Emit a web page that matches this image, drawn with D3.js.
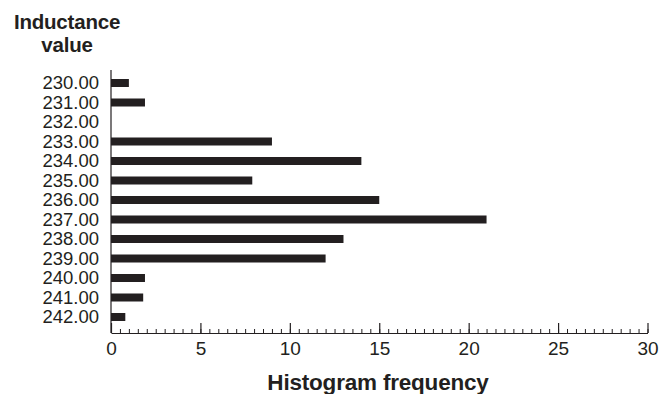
<!DOCTYPE html>
<html>
<head>
<meta charset="utf-8">
<script src="https://cdn.jsdelivr.net/npm/d3@7"></script>
<style>
  html, body { margin: 0; padding: 0; background: #fff; }
  svg { display: block; font-family: "Liberation Sans", Arial, Helvetica, sans-serif; }
</style>
</head>
<body>
<svg id="chart" width="670" height="394"></svg>
<script>
const categories = ["230.00","231.00","232.00","233.00","234.00","235.00","236.00","237.00","238.00","239.00","240.00","241.00","242.00"];
const frequencies = [1, 1.9, 0, 9, 14, 7.9, 15, 21, 13, 12, 1.9, 1.8, 0.8];
const xTicks = [0, 5, 10, 15, 20, 25, 30];
const yTitle = ["Inductance", "value"];
const xTitle = "Histogram frequency";

const svg = d3.select("#chart");
const ink = "#231f20";

const x = d3.scaleLinear().domain([0, 30]).range([111, 647.5]);
const y = d3.scalePoint().domain(categories).range([83, 317]);
const axisY = 333;
const barH = 8;

// bars
svg.append("g").selectAll("rect")
  .data(categories.map((c, i) => ({ c, v: frequencies[i] })))
  .join("rect")
  .attr("x", x(0))
  .attr("y", d => y(d.c) - barH / 2)
  .attr("width", d => x(d.v) - x(0))
  .attr("height", barH)
  .attr("fill", ink);

// x minor ticks
const minor = svg.append("g").attr("transform", `translate(0,${axisY})`)
  .call(d3.axisBottom(x).tickValues(d3.range(0, 30.01, 0.5)).tickSizeInner(-4).tickSizeOuter(0).tickFormat(""));
minor.select(".domain").remove();
minor.selectAll("line").attr("stroke", ink).attr("stroke-width", 1);

// x major axis
const gx = svg.append("g").attr("transform", `translate(0,${axisY})`)
  .call(d3.axisBottom(x).tickValues(xTicks).tickSizeInner(-10).tickSizeOuter(0).tickPadding(9).tickFormat(d3.format("d")));
gx.select(".domain").attr("stroke", ink).attr("stroke-width", 1.2);
gx.selectAll("line").attr("stroke", ink).attr("stroke-width", 1.2);
gx.selectAll("text").attr("fill", ink).attr("font-size", 19).attr("font-family", "'Liberation Sans', Arial, sans-serif");

// y axis
const gy = svg.append("g").attr("transform", `translate(${x(0)},0)`)
  .call(d3.axisLeft(y).tickSize(0).tickPadding(12));
gy.select(".domain").remove();
gy.selectAll("text").attr("fill", ink).attr("font-size", 18.5).attr("font-family", "'Liberation Sans', Arial, sans-serif");
svg.append("line")
  .attr("x1", x(0)).attr("x2", x(0))
  .attr("y1", 70).attr("y2", axisY)
  .attr("stroke", ink).attr("stroke-width", 1.2);

// titles
const t = svg.append("text")
  .attr("text-anchor", "middle")
  .attr("font-weight", "bold")
  .attr("font-size", 20.5)
  .attr("letter-spacing", -0.2)
  .attr("fill", ink);
t.selectAll("tspan").data(yTitle).join("tspan")
  .attr("x", 67)
  .attr("y", (d, i) => 28.5 + i * 23)
  .text(d => d);

svg.append("text")
  .attr("x", 378)
  .attr("y", 390)
  .attr("text-anchor", "middle")
  .attr("font-weight", "bold")
  .attr("font-size", 22.5)
  .attr("letter-spacing", -0.2)
  .attr("fill", ink)
  .text(xTitle);
</script>
</body>
</html>
